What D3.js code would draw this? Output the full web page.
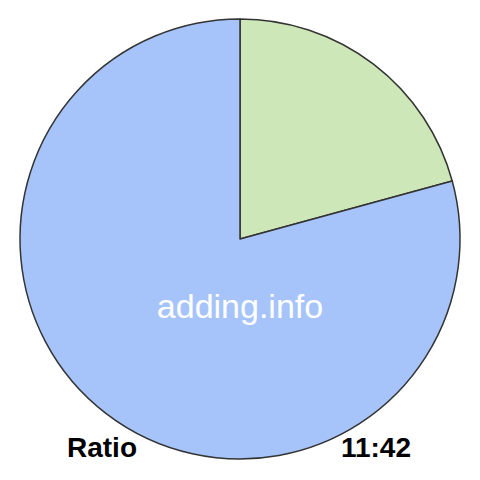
<!DOCTYPE html>
<html>
<head>
<meta charset="utf-8">
<script src="https://cdn.jsdelivr.net/npm/d3@7"></script>
<style>
  body { margin: 0; background: #fff; }
  svg { display: block; }
</style>
</head>
<body>
<svg id="chart" width="480" height="480"></svg>
<script>
// data
const categories = ["first", "second"];
const values = [11, 42];
const colors = ["#cee7b9", "#a6c4fa"];
const label = "Ratio";
const ratioText = "11:42";
const watermark = "adding.info";

const svg = d3.select("#chart");
const cx = 240, cy = 239, radius = 220;

const color = d3.scaleOrdinal().domain(categories).range(colors);

const pie = d3.pie().sort(null).value((d) => d.value);
const arc = d3.arc().innerRadius(0).outerRadius(radius);

const data = categories.map((c, i) => ({ name: c, value: values[i] }));

const g = svg.append("g").attr("transform", "translate(" + cx + "," + cy + ")");

g.selectAll("path.slice")
    .data(pie(data))
    .enter()
    .append("path")
    .attr("class", "slice")
    .attr("d", arc)
    .attr("fill", (d) => color(d.data.name))
    .attr("stroke", "#333")
    .attr("stroke-width", 1.5)
    .attr("stroke-linejoin", "round");

// watermark
svg.append("text")
    .attr("x", 240)
    .attr("y", 318)
    .attr("text-anchor", "middle")
    .attr("fill", "#fff")
    .style("font-family", "'Liberation Sans', Arial, sans-serif")
    .style("font-size", "34px")
    .text(watermark);

// bottom labels
svg.append("text")
    .attr("x", 67)
    .attr("y", 457)
    .attr("fill", "#000")
    .style("font-family", "'Liberation Sans', Arial, sans-serif")
    .style("font-weight", "bold")
    .style("font-size", "28px")
    .text(label);

svg.append("text")
    .attr("x", 411)
    .attr("y", 457)
    .attr("text-anchor", "end")
    .attr("fill", "#000")
    .style("font-family", "'Liberation Sans', Arial, sans-serif")
    .style("font-weight", "bold")
    .style("font-size", "28px")
    .text(ratioText);
</script>
</body>
</html>
